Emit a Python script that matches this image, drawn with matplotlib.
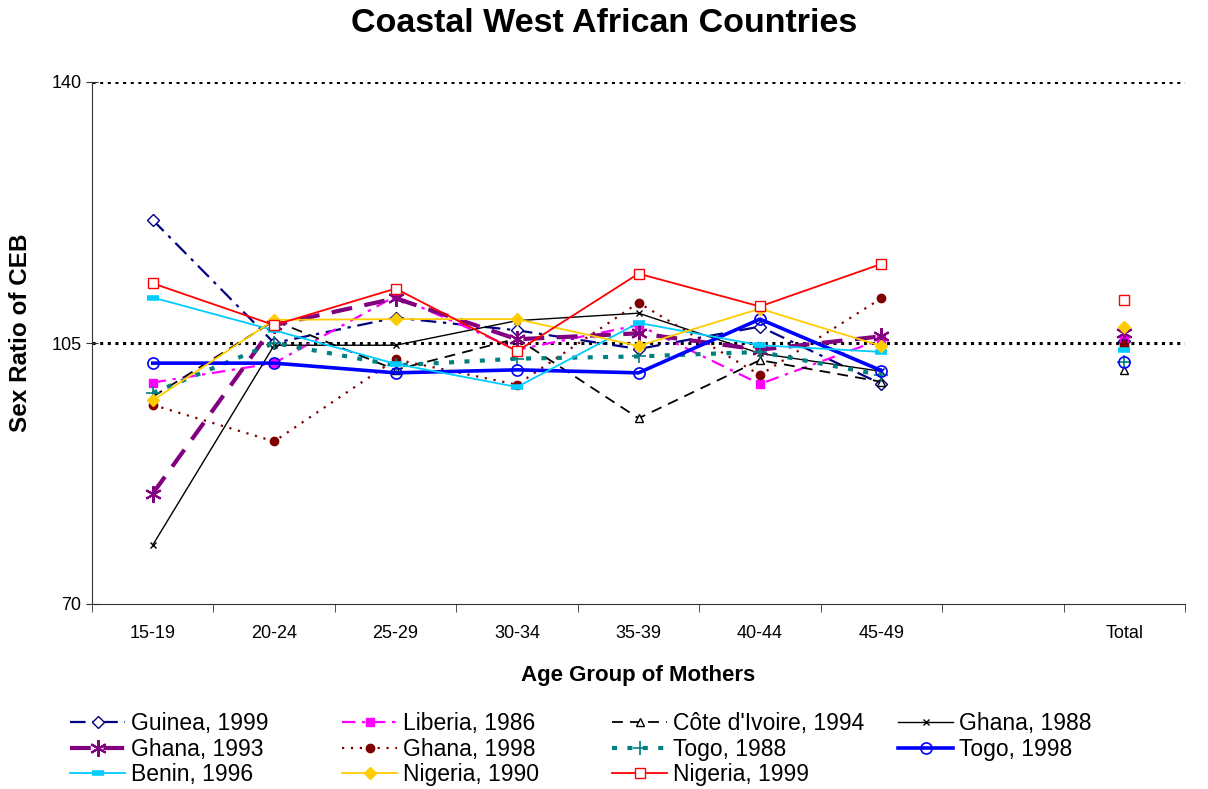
"""Coastal West African Countries - sex ratio of CEB by age group"""
import numpy as np
import matplotlib.pyplot as plt
from matplotlib.ticker import FixedLocator

plt.rcParams['font.family'] = ['Liberation Sans', 'DejaVu Sans']

age_groups = ["15-19", "20-24", "25-29", "30-34", "35-39", "40-44", "45-49", "", "Total"]

# values per series: 7 age groups, gap, total
guinea_1999 = [121.5, 105.0, 108.4, 106.7, 104.2, 107.2, 99.5, np.nan, 105.3]
liberia_1986 = [99.7, 102.3, 111.3, 104.1, 107.4, 99.5, 105.5, np.nan, 105.6]
cote_1994 = [97.8, 108.0, 101.4, 105.6, 94.9, 102.7, 99.8, np.nan, 101.4]
ghana_1988 = [77.9, 104.7, 104.7, 108.0, 109.0, 103.6, 101.2, np.nan, 105.2]
ghana_1993 = [84.8, 107.4, 111.0, 105.5, 106.3, 104.1, 105.9, np.nan, 106.3]
ghana_1998 = [96.7, 91.8, 102.8, 99.4, 110.4, 100.7, 111.0, np.nan, 104.7]
togo_1988 = [98.3, 105.0, 102.0, 102.9, 103.2, 103.8, 100.7, np.nan, 102.5]
togo_1998 = [102.3, 102.3, 101.0, 101.4, 101.0, 108.2, 101.3, np.nan, 102.4]
benin_1996 = [111.1, 106.7, 102.2, 99.1, 107.7, 104.7, 103.8, np.nan, 104.1]
nigeria_1990 = [97.3, 108.1, 108.2, 108.2, 104.6, 109.6, 104.6, np.nan, 107.2]
nigeria_1999 = [113.0, 107.4, 112.3, 103.9, 114.3, 109.9, 115.6, np.nan, 110.8]

series = [
    ("Guinea, 1999", guinea_1999, dict(color="#000080", ls=(0, (7, 3, 1.5, 3)), lw=1.6,
                                       marker="D", ms=6, mfc="white", mec="#000080")),
    ("Liberia, 1986", liberia_1986, dict(color="#FF00FF", ls=(0, (6, 3, 1.5, 3)), lw=1.6,
                                         marker="s", ms=6, mfc="#FF00FF", mec="#FF00FF")),
    ("Côte d'Ivoire, 1994", cote_1994, dict(color="black", ls=(0, (6, 4)), lw=1.3,
                                            marker="^", ms=6, mfc="white", mec="black")),
    ("Ghana, 1988", ghana_1988, dict(color="black", ls="-", lw=1.0,
                                     marker="x", ms=5, mec="black")),
    ("Ghana, 1993", ghana_1993, dict(color="#800080", ls=(0, (5, 3)), lw=3.0,
                                     marker=(6, 2, 0), ms=12, mec="#800080", mew=1.5)),
    ("Ghana, 1998", ghana_1998, dict(color="#800000", ls=(0, (1, 3)), lw=1.6,
                                     marker="o", ms=6, mfc="#800000", mec="#800000")),
    ("Togo, 1988", togo_1988, dict(color="#008080", ls=(0, (1.2, 2.5)), lw=3.0,
                                   marker="+", ms=10, mec="#008080", mew=1.2)),
    ("Togo, 1998", togo_1998, dict(color="#0000FF", ls="-", lw=2.6,
                                   marker="o", ms=8, mfc="none", mec="#0000FF", mew=1.2)),
    ("Benin, 1996", benin_1996, dict(color="#00CCFF", ls="-", lw=1.3,
                                     marker="_", ms=9, mec="#00CCFF", mew=4)),
    ("Nigeria, 1990", nigeria_1990, dict(color="#FFCC00", ls="-", lw=1.3,
                                         marker="D", ms=6, mfc="#FFCC00", mec="#FFCC00")),
    ("Nigeria, 1999", nigeria_1999, dict(color="#FF0000", ls="-", lw=1.3,
                                         marker="s", ms=7, mfc="white", mec="#FF0000")),
]

fig = plt.figure(figsize=(12.08, 7.89), dpi=100)
ax = fig.add_axes([92 / 1208, 1 - 604 / 789, (1185 - 92) / 1208, (604 - 82) / 789])

x = np.arange(len(age_groups))
handles = {}
for name, vals, st in series:
    h, = ax.plot(x, vals, label=name, **st)
    handles[name] = h

ax.set_xlim(-0.5, len(age_groups) - 0.5)
ax.set_ylim(70, 140)
ax.set_yticks([70, 105, 140])
ax.set_xticks(x)
ax.set_xticklabels(age_groups, fontsize=13)
ax.xaxis.set_minor_locator(FixedLocator(np.arange(-0.5, len(age_groups), 1)))
ax.tick_params(axis="x", which="major", length=0, pad=15)
ax.tick_params(axis="x", which="minor", length=6, direction="out", color="#333333")
ax.tick_params(axis="y", labelsize=13, length=8, direction="inout", color="#333333")

for v in [105, 140]:
    ax.axhline(v, color="black", ls=(0, (1, 1.5)), lw=2.2, zorder=0)

for s in ["top", "right"]:
    ax.spines[s].set_visible(False)
ax.spines["left"].set_color("#333333")
ax.spines["bottom"].set_color("#333333")

ax.set_xlabel("Age Group of Mothers", fontsize=16, fontweight="bold", labelpad=17)
ax.set_ylabel("Sex Ratio of CEB", fontsize=17.5, fontweight="bold")
ax.yaxis.set_label_coords(-60 / 1093, (604 - 333) / 522)
fig.text(0.5, 1 - 23 / 789, "Coastal West African Countries", ha="center", va="center",
         fontsize=24.5, fontweight="bold")

# legend laid out as four evenly spaced columns, like the original
columns = [
    (70, ["Guinea, 1999", "Ghana, 1993", "Benin, 1996"]),
    (342, ["Liberia, 1986", "Ghana, 1998", "Nigeria, 1990"]),
    (612, ["Côte d'Ivoire, 1994", "Togo, 1988", "Nigeria, 1999"]),
    (898, ["Ghana, 1988", "Togo, 1998"]),
]
for xpix, names in columns:
    leg = fig.legend([handles[n] for n in names], names, loc="upper left",
                     bbox_to_anchor=(xpix / 1208, 1 - 712 / 789), ncol=1, frameon=False,
                     fontsize=16.5, handlelength=2.4, handletextpad=0.25,
                     labelspacing=0.12, borderaxespad=0, borderpad=0)

fig.savefig("out.png", dpi=100)
